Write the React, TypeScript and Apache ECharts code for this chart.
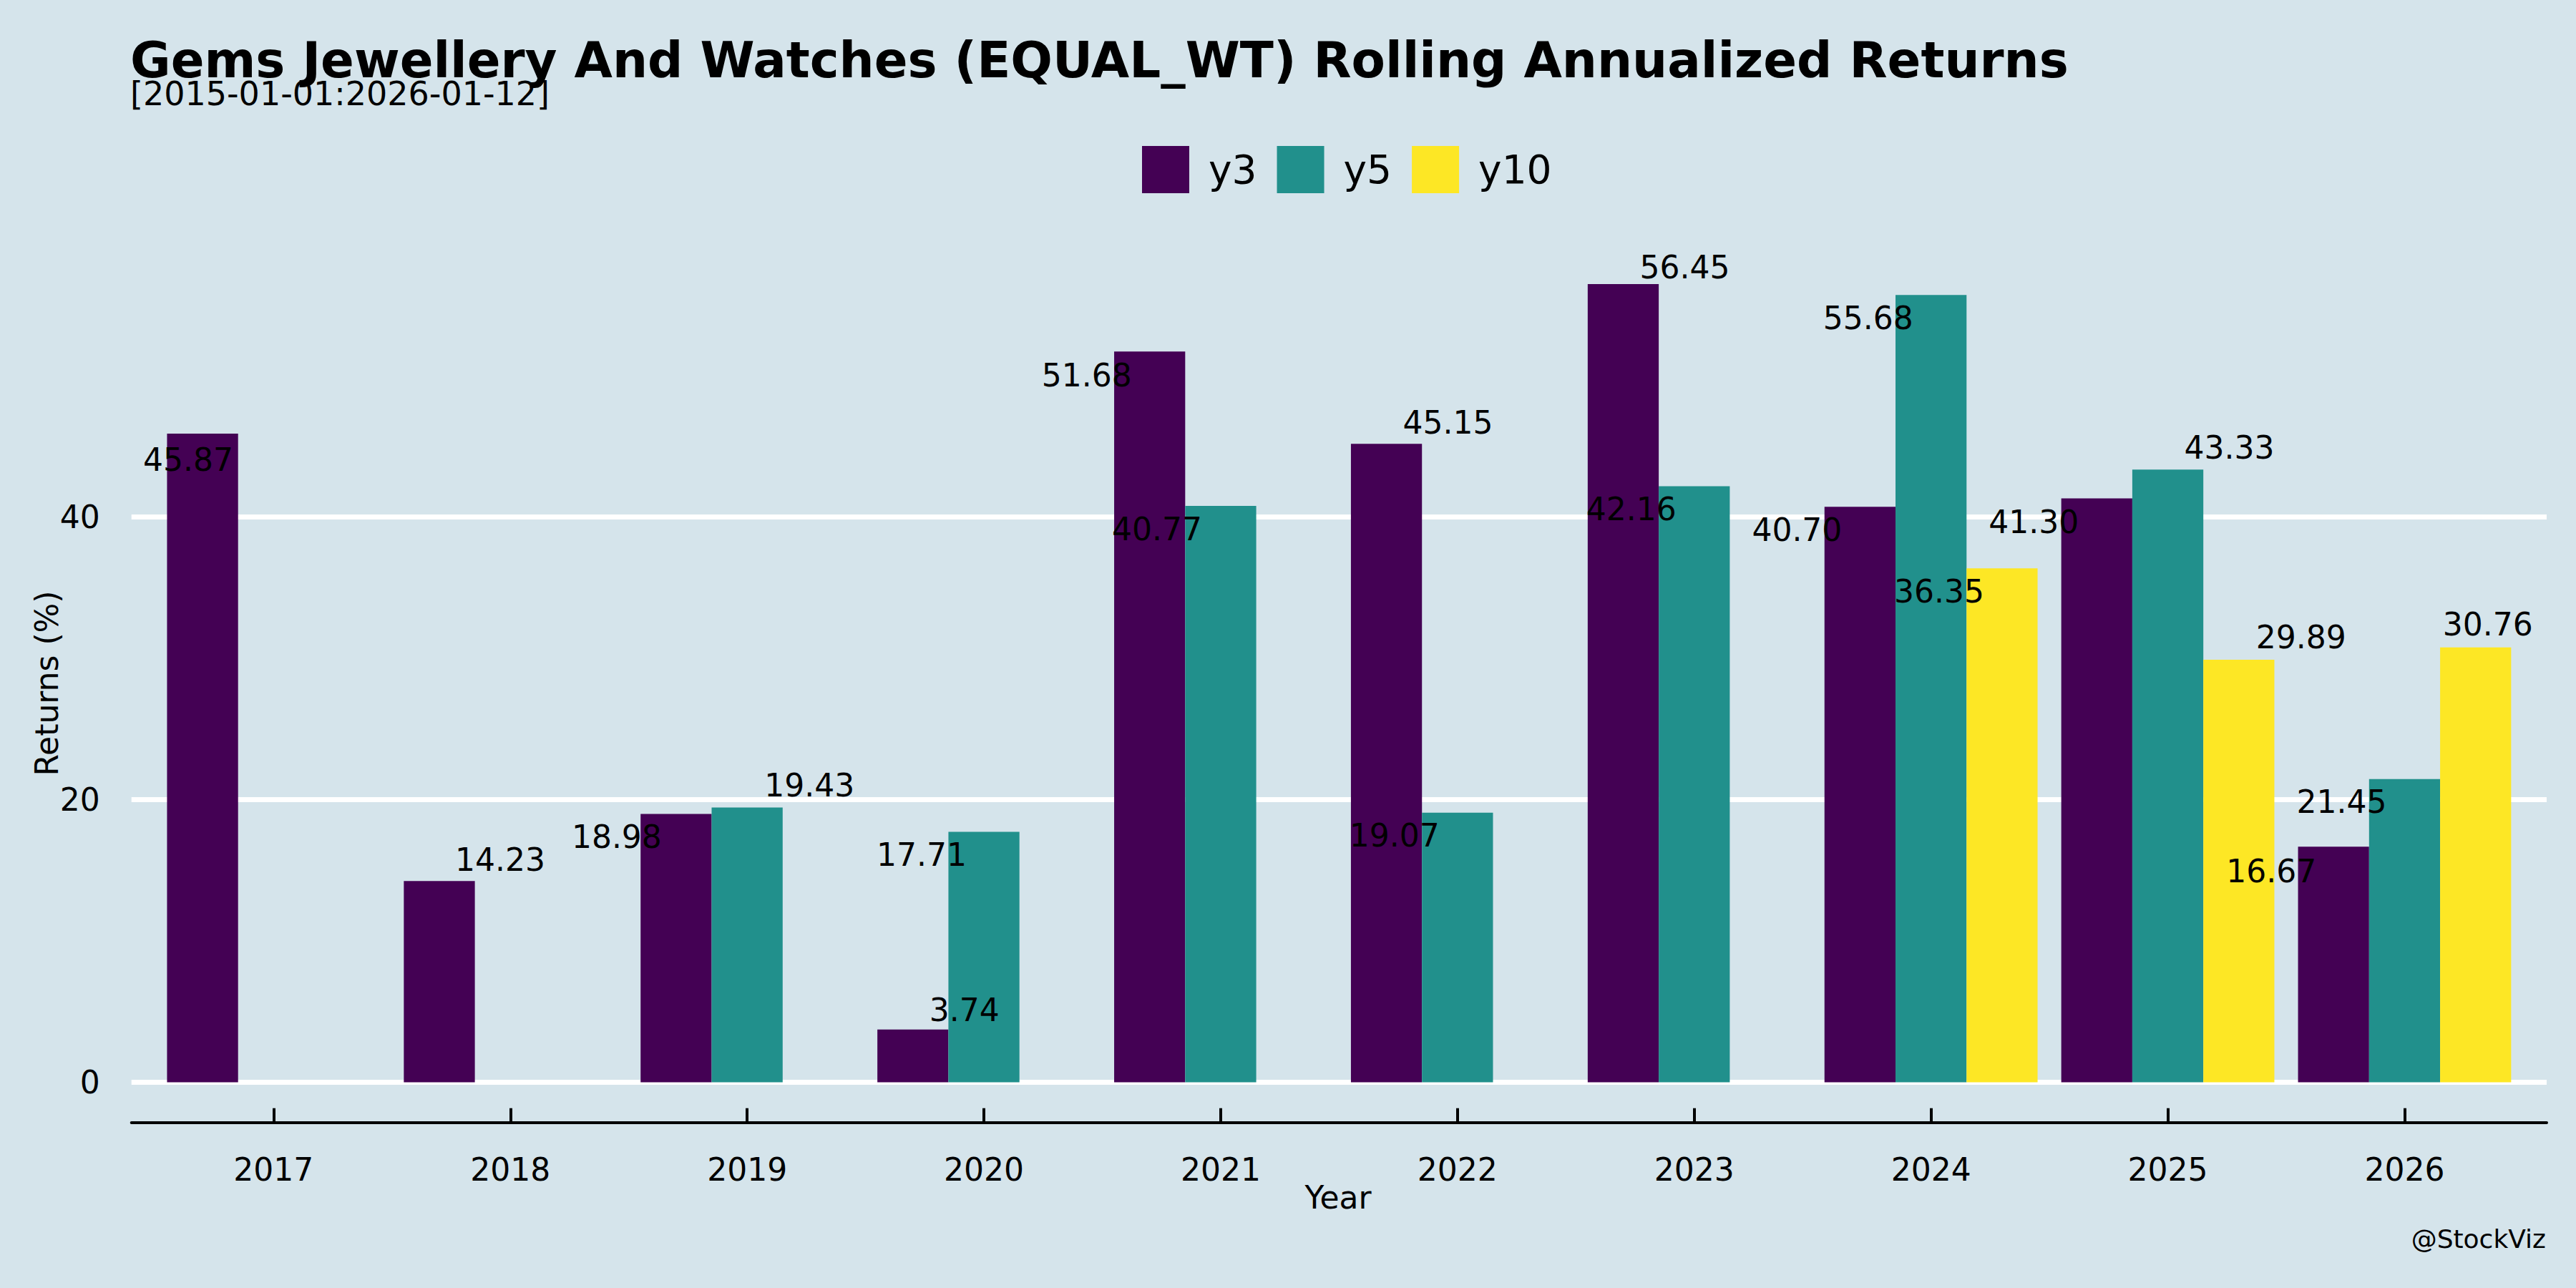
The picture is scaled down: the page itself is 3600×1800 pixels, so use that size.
import React, { useEffect, useRef } from 'react';
import * as echarts from 'echarts';

// ---- data ----
const YEARS = ['2017', '2018', '2019', '2020', '2021', '2022', '2023', '2024', '2025', '2026'];
const Y3 = [45.87, 14.23, 18.98, 3.74, 51.68, 45.15, 56.45, 40.7, 41.3, 16.67];
const Y5 = [null, null, 19.43, 17.71, 40.77, 19.07, 42.16, 55.68, 43.33, 21.45];
const Y10 = [null, null, null, null, null, null, null, 36.35, 29.89, 30.76];
const Y_TICKS = [0, 20, 40];
const SERIES_NAMES = ['y3', 'y5', 'y10'];
const TITLE = 'Gems Jewellery And Watches (EQUAL_WT) Rolling Annualized Returns';
const SUBTITLE = '[2015-01-01:2026-01-12]';
const X_TITLE = 'Year';
const Y_TITLE = 'Returns (%)';
const CREDIT = '@StockViz';

// ---- styling (label placement offsets in px, relative to bar top centre) ----
const LABEL_OFFSETS: Record<string, (number[] | null)[]> = {
  y3: [[-20, 36], [85, -30], [-83, 32], [72, -27], [-88, 33], [86, -30], [86, -24], [-88, 32], [-88, 33], [-87, 34]],
  y5: [null, null, [87, -31], [-87, 32], [-89, 33], [-88, 32], [-88, 32], [-88, 32], [86, -31], [-88, 32]],
  y10: [null, null, null, null, null, null, null, [-88, 32], [87, -31], [17, -32]],
};
const COLORS = ['#440154', '#21908C', '#FDE725'];
const BG = '#d5e4eb';
const FONT = '"DejaVu Sans", sans-serif';
const W = 3600;
const H = 1800;

export default function App() {
  const ref = useRef<HTMLDivElement>(null);

  useEffect(() => {
    document.body.style.margin = '0';
    document.body.style.background = BG;
    const chart = echarts.init(ref.current!, null, { renderer: 'svg', width: W, height: H });

    const Y_MIN = -2.84;
    const Y_MAX = 59.27;
    const top = 341.3;
    const height = 1227.4;

    const mkSeries = (name: string, values: (number | null)[], color: string) => ({
      type: 'bar',
      name,
      xAxisIndex: 1,
      yAxisIndex: 1,
      barWidth: '30%',
      barGap: '0%',
      itemStyle: { color },
      data: values.map((v, i) =>
        v == null ? null : { value: v, label: { offset: LABEL_OFFSETS[name][i] } }
      ),
      label: {
        show: true,
        position: 'top',
        distance: 0,
        align: 'center',
        verticalAlign: 'middle',
        formatter: (p: any) => Number(p.value).toFixed(2),
        fontSize: 44,
        fontFamily: FONT,
        color: '#000',
      },
    });

    const textStyle = (size: number, weight = 'normal') => ({
      font: `${weight} ${size}px ${FONT}`,
      fontSize: size,
      fontWeight: weight,
      fontFamily: FONT,
      fill: '#000',
    });

    chart.setOption({
      animation: false,
      backgroundColor: BG,
      textStyle: { fontFamily: FONT },
      legend: {
        data: SERIES_NAMES,
        icon: 'rect',
        itemWidth: 66,
        itemHeight: 66,
        itemGap: 28,
        left: 1596,
        top: 204,
        padding: 0,
        selectedMode: false,
        textStyle: { fontSize: 55, color: '#000', fontFamily: FONT, padding: [0, 0, 0, 22] },
      },
      grid: [
        { left: 183.7, top, width: 3375.3, height, outerBoundsMode: 'none', containLabel: false },
        { left: 216.9, top, width: 3309, height, outerBoundsMode: 'none', containLabel: false },
      ],
      xAxis: [
        {
          type: 'value',
          gridIndex: 0,
          min: 0,
          max: 1,
          axisLine: { show: true, onZero: false, lineStyle: { color: '#000', width: 4 } },
          axisTick: { show: false },
          axisLabel: { show: false },
          splitLine: { show: false },
        },
        {
          type: 'category',
          gridIndex: 1,
          data: YEARS,
          axisLine: { show: false, onZero: false },
          axisTick: {
            show: true,
            inside: true,
            length: 20,
            alignWithLabel: true,
            lineStyle: { color: '#000', width: 4 },
          },
          axisLabel: { fontSize: 44, color: '#000', margin: 44, fontFamily: FONT, interval: 0 },
          splitLine: { show: false },
        },
      ],
      yAxis: [
        {
          type: 'value',
          gridIndex: 0,
          min: Y_MIN,
          max: Y_MAX,
          axisLine: { show: false },
          axisTick: { show: false, customValues: Y_TICKS },
          axisLabel: { customValues: Y_TICKS, fontSize: 44, color: '#000', margin: 44, fontFamily: FONT },
          splitLine: { show: true, lineStyle: { color: '#ffffff', width: 7 } },
        },
        {
          type: 'value',
          gridIndex: 1,
          min: Y_MIN,
          max: Y_MAX,
          show: false,
          splitLine: { show: false },
        },
      ],
      series: [
        mkSeries(SERIES_NAMES[0], Y3, COLORS[0]),
        mkSeries(SERIES_NAMES[1], Y5, COLORS[1]),
        mkSeries(SERIES_NAMES[2], Y10, COLORS[2]),
      ],
      graphic: [
        {
          type: 'text',
          x: 182,
          y: 83.5,
          style: { ...textStyle(69, 'bold'), text: TITLE, align: 'left', verticalAlign: 'middle', textAlign: 'left', textVerticalAlign: 'middle' },
        },
        {
          type: 'text',
          x: 182,
          y: 131,
          style: { ...textStyle(46), text: SUBTITLE, align: 'left', verticalAlign: 'middle', textAlign: 'left', textVerticalAlign: 'middle' },
        },
        {
          type: 'text',
          x: 65,
          y: 955,
          rotation: Math.PI / 2,
          style: { ...textStyle(44), text: Y_TITLE, align: 'center', verticalAlign: 'middle', textAlign: 'center', textVerticalAlign: 'middle' },
        },
        {
          type: 'text',
          x: 1870,
          y: 1673,
          style: { ...textStyle(44), text: X_TITLE, align: 'center', verticalAlign: 'middle', textAlign: 'center', textVerticalAlign: 'middle' },
        },
        {
          type: 'text',
          x: 3558,
          y: 1731,
          style: { ...textStyle(36), text: CREDIT, align: 'right', verticalAlign: 'middle', textAlign: 'right', textVerticalAlign: 'middle' },
        },
      ],
    });

    return () => {
      chart.dispose();
    };
  }, []);

  return <div ref={ref} style={{ width: W, height: H }} />;
}
